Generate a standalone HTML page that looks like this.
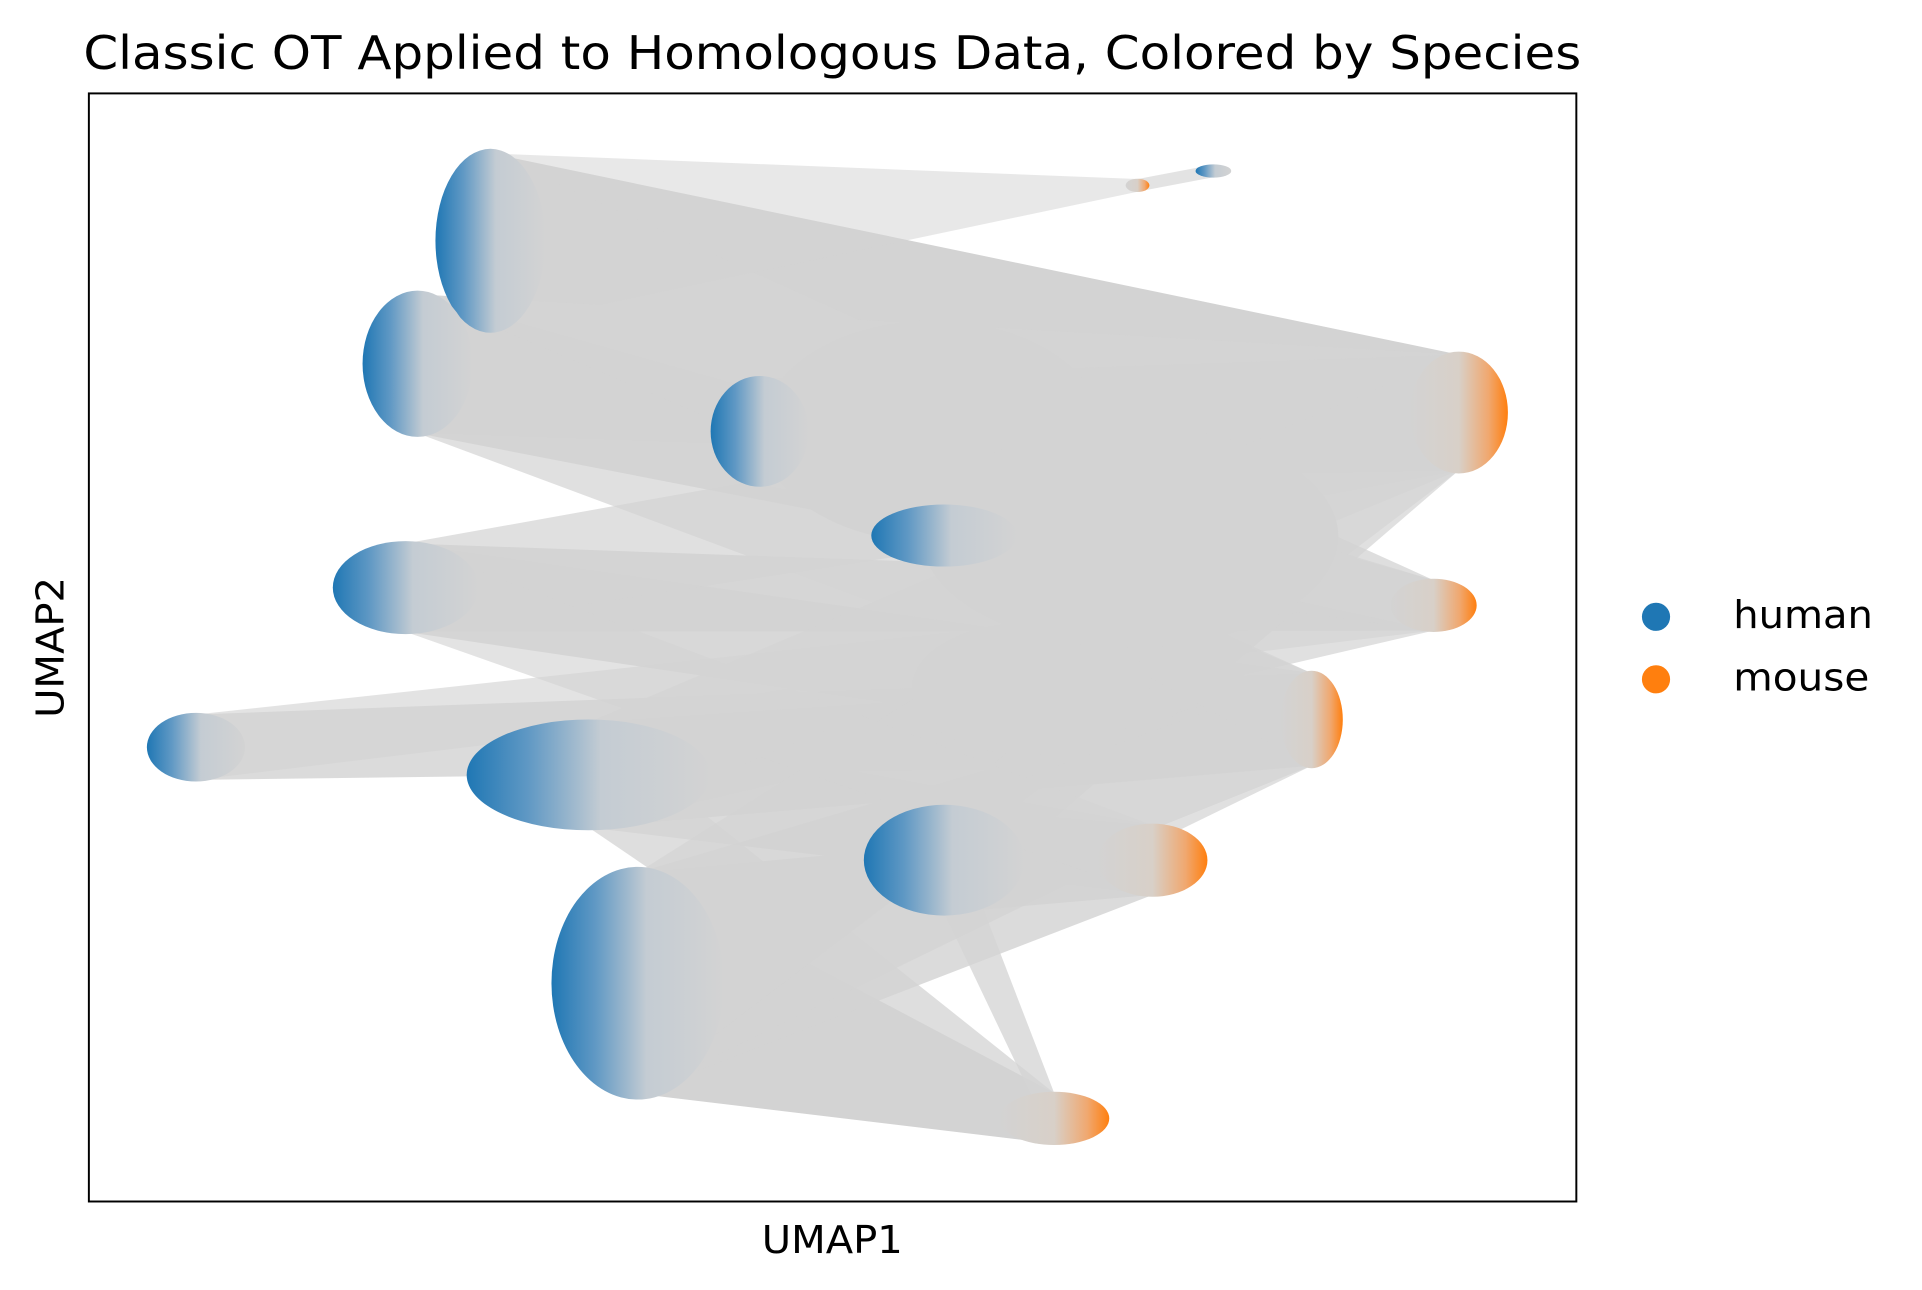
<!DOCTYPE html>
<html><head><meta charset="utf-8"><style>
html,body{margin:0;padding:0;background:#fff;}
svg{display:block;font-family:"DejaVu Sans","Liberation Sans",sans-serif;}
</style></head><body>
<svg id="chart" width="1922" height="1290" viewBox="0 0 1568 1052" xmlns="http://www.w3.org/2000/svg">
<defs>
<linearGradient id="gh" x1="0" x2="1" y1="0" y2="0"><stop offset="0" stop-color="#1f77b4"/><stop offset="0.25" stop-color="#5f98c4"/><stop offset="0.55" stop-color="#c4ccd3"/><stop offset="1" stop-color="#d3d3d3"/></linearGradient>
<linearGradient id="gm" x1="1" x2="0" y1="0" y2="0"><stop offset="0" stop-color="#ff7f0e"/><stop offset="0.2" stop-color="#f0a870"/><stop offset="0.5" stop-color="#d8d0c8"/><stop offset="1" stop-color="#d3d3d3"/></linearGradient>
</defs>
<text x="679" y="56" font-size="38" text-anchor="middle" textLength="1222" lengthAdjust="spacingAndGlyphs" fill="#000">Classic OT Applied to Homologous Data, Colored by Species</text>
<g id="links"></g>
<g id="blobs"></g>
<rect x="72.5" y="76" width="1213.5" height="904" fill="none" stroke="#000" stroke-width="1.6"/>
<text x="679" y="1022" font-size="31" text-anchor="middle" textLength="115" lengthAdjust="spacingAndGlyphs">UMAP1</text>
<text x="52" y="528" font-size="31" text-anchor="middle" textLength="115" lengthAdjust="spacingAndGlyphs" transform="rotate(-90 52 528)">UMAP2</text>
<g>
<circle cx="1351" cy="503" r="11.5" fill="#1f77b4"/>
<text x="1414" y="512" font-size="31" textLength="114" lengthAdjust="spacingAndGlyphs">human</text>
<circle cx="1351" cy="554" r="11.5" fill="#ff7f0e"/>
<text x="1414" y="563" font-size="31" textLength="111" lengthAdjust="spacingAndGlyphs">mouse</text>
</g>
</svg>
<script>
// cluster centers in UMAP-like data units (domain 0..100) and spreads
const humanX = [27.0,22.1,21.3,7.2,33.6,36.9,57.5,57.5,45.1,75.6];
const humanY = [86.7,75.6,55.4,41.0,38.5,19.7,30.8,60.1,69.5,93.0];
const humanRX = [3.7,3.7,4.9,3.3,8.2,5.8,5.4,4.9,3.3,1.2];
const humanRY = [8.3,6.6,4.2,3.1,5.0,10.5,5.0,2.8,5.0,0.6];
const mouseX = [92.1,90.4,82.2,71.5,64.9,70.5];
const mouseY = [71.2,53.8,43.5,30.8,7.5,91.7];
const mouseRX = [3.3,2.9,2.1,3.7,3.7,0.8];
const mouseRY = [5.5,2.4,4.4,3.3,2.4,0.6];
const grayX = [56.7,63.3,70.0];
const grayY = [69.5,46.3,60.0];
const grayRX = [11.5,8,14];
const grayRY = [10,6,10];
// transport links: human index, mouse index, weight
const linkH = [0,0,0,1,1,1,2,2,2,3,3,4,4,4,4,5,5,5,5,6,6,6,6,7,7,7,8,8,9,2,4];
const linkM = [0,1,5,0,1,2,1,2,0,2,1,2,3,4,1,4,3,2,0,3,4,0,2,0,1,2,0,1,5,3,0];
const linkW = [1,0.6,0.2,0.9,0.8,0.5,0.9,0.8,0.5,0.7,0.4,0.8,0.7,0.6,0.5,1,0.7,0.5,0.3,0.8,0.6,0.5,0.5,0.9,0.7,0.5,0.8,0.6,0.4,0.4,0.4];

const X0=72.5,X1=1286,Y0=980,Y1=76;
const xs = v => X0 + v/100*(X1-X0);
const ys = v => Y0 - v/100*(Y0-Y1);
const sx = v => v/100*(X1-X0);
const sy = v => v/100*(Y0-Y1);
const NS="http://www.w3.org/2000/svg";
const links=document.getElementById('links');
for(let i=0;i<linkH.length;i++){
  const h=linkH[i], m=linkM[i], w=linkW[i];
  const hx=xs(humanX[h]), hy=ys(humanY[h]), hr=sy(humanRY[h])*0.95;
  const mx=xs(mouseX[m]), my=ys(mouseY[m]), mr=sy(mouseRY[m])*0.95;
  const p=document.createElementNS(NS,'polygon');
  
  
  p.setAttribute('points',`${hx},${hy-hr} ${mx},${my-mr} ${mx},${my+mr} ${hx},${hy+hr}`);
  p.setAttribute('fill','#d3d3d3');
  p.setAttribute('fill-opacity',(0.4+0.6*w).toFixed(2));
  links.appendChild(p);
}
const blobs=document.getElementById('blobs');
for(let i=0;i<grayX.length;i++){
  const e=document.createElementNS(NS,'ellipse');
  
  
  e.setAttribute('cx',xs(grayX[i]));e.setAttribute('cy',ys(grayY[i]));
  e.setAttribute('rx',sx(grayRX[i]));e.setAttribute('ry',sy(grayRY[i]));
  e.setAttribute('fill','#d3d3d3');
  blobs.appendChild(e);
}
for(let i=0;i<humanX.length;i++){
  const e=document.createElementNS(NS,'ellipse');
  
  
  e.setAttribute('cx',xs(humanX[i]));e.setAttribute('cy',ys(humanY[i]));
  e.setAttribute('rx',sx(humanRX[i]));e.setAttribute('ry',sy(humanRY[i]));
  e.setAttribute('fill','url(#gh)');
  blobs.appendChild(e);
}
for(let i=0;i<mouseX.length;i++){
  const e=document.createElementNS(NS,'ellipse');
  
  
  e.setAttribute('cx',xs(mouseX[i]));e.setAttribute('cy',ys(mouseY[i]));
  e.setAttribute('rx',sx(mouseRX[i]));e.setAttribute('ry',sy(mouseRY[i]));
  e.setAttribute('fill','url(#gm)');
  blobs.appendChild(e);
}
</script>
</body></html>
